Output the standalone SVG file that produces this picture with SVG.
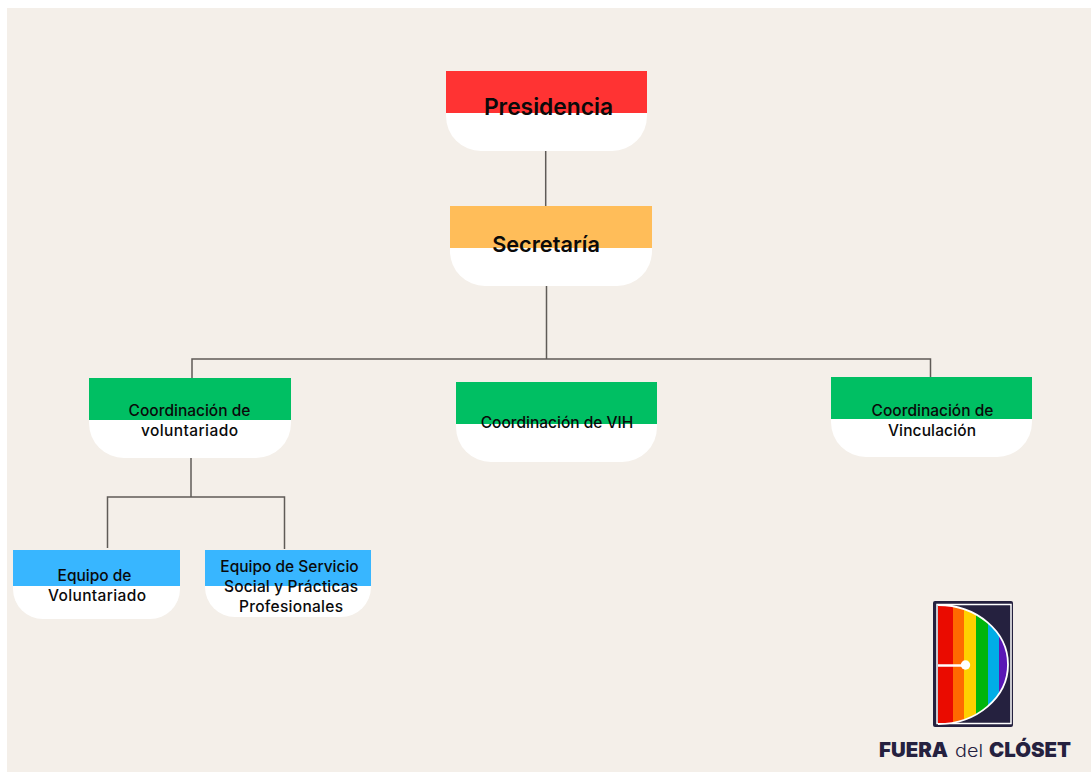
<svg xmlns="http://www.w3.org/2000/svg" width="1091" height="773" viewBox="0 0 1091 773">
<style>
.t{font-family:Inter,"Noto Sans","Liberation Sans",sans-serif;font-weight:500;fill:#0a0a0a;text-anchor:middle}
.big{font-size:22.8px;font-weight:600}
.mid{font-size:21.700px;font-weight:600}
.sm{font-size:15.500px}
.c{fill:none;stroke:#5f5b57;stroke-width:1.500}
.w{fill:#fff}
.red{fill:#ff3333}.org{fill:#ffbd59}.grn{fill:#00bf63}.blu{fill:#38b6ff}
.l{font-family:Inter,Lato,"Liberation Sans",sans-serif;fill:#25213f}
</style>
<rect width="1091" height="773" fill="#fff"/>
<rect x="7" y="8" width="1084" height="764" fill="#f4efe9"/>
<g id="connectors">
<path class="c" d="M545.700 150V206"/>
<path class="c" d="M546.500 286V359"/>
<path class="c" d="M192 378V359H930.500V377"/>
<path class="c" d="M191 458V497"/>
<path class="c" d="M107.500 548V497H284.500V549"/>
</g>
<g id="presidencia">
<path class="w" d="M446 113H647V116A35 35 0 0 1 612 151H481A35 35 0 0 1 446 116Z"/>
<rect class="red" x="446" y="71" width="201" height="42"/>
<text class="t big" x="548.500" y="115">Presidencia</text>
</g>
<g id="secretaria">
<path class="w" d="M450 248H652V251A35 35 0 0 1 617 286H485A35 35 0 0 1 450 251Z"/>
<rect class="org" x="450" y="206" width="202" height="42"/>
<text class="t mid" x="546" y="252">Secretaría</text>
</g>
<g id="coord-voluntariado">
<path class="w" d="M89 420H291V423A35 35 0 0 1 256 458H124A35 35 0 0 1 89 423Z"/>
<rect class="grn" x="89" y="378" width="202" height="42"/>
<text class="t sm" x="189.500" y="415.500">Coordinación de</text>
<text class="t sm" x="189.500" y="435.500" textLength="97">voluntariado</text>
</g>
<g id="coord-vih">
<path class="w" d="M456 424H657V427A35 35 0 0 1 622 462H491A35 35 0 0 1 456 427Z"/>
<rect class="grn" x="456" y="382" width="201" height="42"/>
<text class="t sm" x="557" y="427.500">Coordinación de VIH</text>
</g>
<g id="coord-vinculacion">
<path class="w" d="M831 419H1032V422A35 35 0 0 1 997 457H866A35 35 0 0 1 831 422Z"/>
<rect class="grn" x="831" y="377" width="201" height="42"/>
<text class="t sm" x="932.500" y="415.500">Coordinación de</text>
<text class="t sm" x="932" y="435.500" textLength="88">Vinculación</text>
</g>
<g id="equipo-voluntariado">
<path class="w" d="M13 586H180V589A30 30 0 0 1 150 619H43A30 30 0 0 1 13 589Z"/>
<rect class="blu" x="13" y="550" width="167" height="36"/>
<text class="t sm" x="94.500" y="580.500">Equipo de</text>
<text class="t sm" x="97" y="600.500" textLength="98">Voluntariado</text>
</g>
<g id="equipo-servicio">
<path class="w" d="M205 586H371V587A30 30 0 0 1 341 617H235A30 30 0 0 1 205 587Z"/>
<rect class="blu" x="205" y="550" width="166" height="36"/>
<text class="t sm" x="289.500" y="571.500">Equipo de Servicio</text>
<text class="t sm" x="291" y="591.500" textLength="134">Social y Prácticas</text>
<text class="t sm" x="291" y="611.500" textLength="104">Profesionales</text>
</g>
<g id="logo">
<rect x="933" y="601" width="80" height="126" rx="2" fill="#25213f"/>
<rect x="937" y="604.500" width="74" height="119" fill="none" stroke="#fff" stroke-width="1.500"/>
<clipPath id="d"><path d="M938 605A70 59.500 0 0 1 1008 664.500A70 59.500 0 0 1 938 724Z"/></clipPath>
<g clip-path="url(#d)">
<rect x="938" y="604" width="15" height="120" fill="#ea0b00"/>
<rect x="953" y="604" width="11" height="120" fill="#ff6a00"/>
<rect x="964" y="604" width="12" height="120" fill="#ffd000"/>
<rect x="976" y="604" width="12" height="120" fill="#00b50c"/>
<rect x="988" y="604" width="11" height="120" fill="#00ade6"/>
<rect x="999" y="604" width="10" height="120" fill="#5a17b5"/>
</g>
<path d="M938 605A70 59.500 0 0 1 1008 664.500A70 59.500 0 0 1 938 724" fill="none" stroke="#fff" stroke-width="1.800"/>
<path d="M938 665.500H965" stroke="#fff" stroke-width="2.500"/>
<circle cx="965.500" cy="665" r="4.700" fill="#fff"/>
</g>
<g id="logo-text">
<text class="l" x="879" y="757" font-size="20" font-weight="900" textLength="69" lengthAdjust="spacingAndGlyphs">FUERA</text>
<text class="l" x="955" y="757" font-size="17" font-weight="300" textLength="28" lengthAdjust="spacingAndGlyphs">del</text>
<text class="l" x="989" y="757" font-size="20" font-weight="900" textLength="82" lengthAdjust="spacingAndGlyphs">CLÓSET</text>
</g>
</svg>
